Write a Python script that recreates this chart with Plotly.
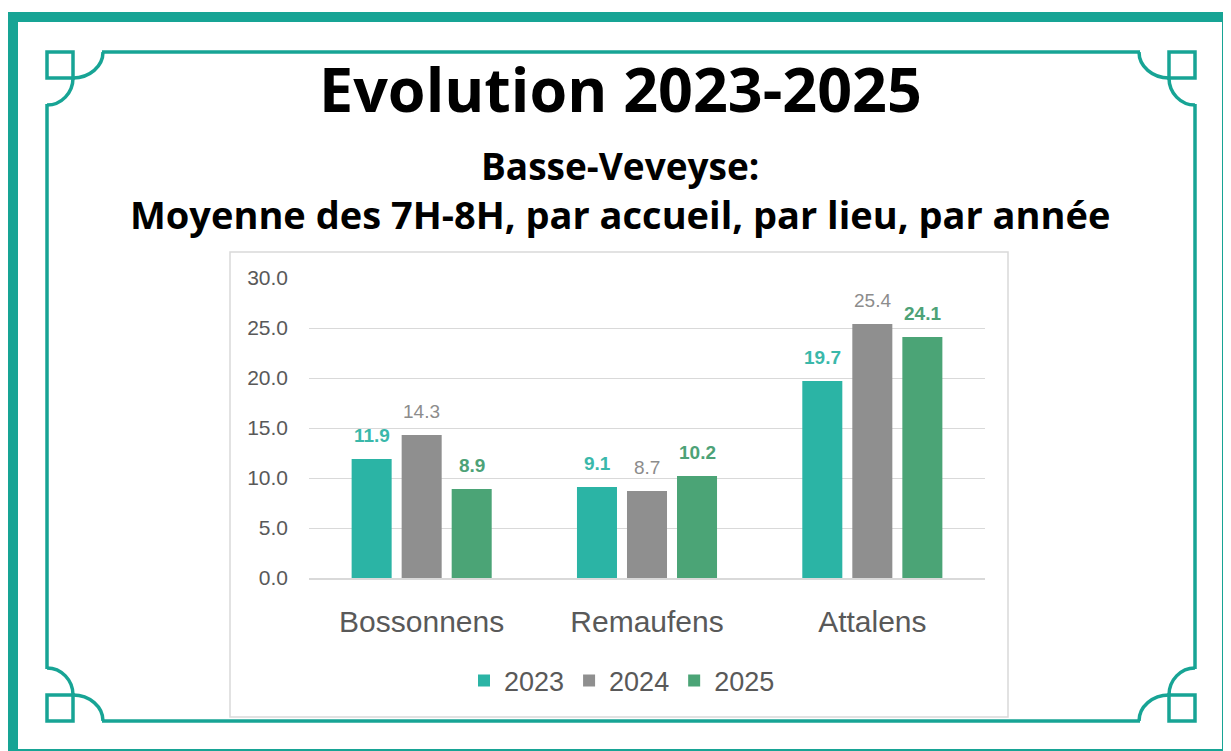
import plotly.graph_objects as go

# ---- data ----
categories = ["Bossonnens", "Remaufens", "Attalens"]
years = ["2023", "2024", "2025"]
values_2023 = [11.9, 9.1, 19.7]
values_2024 = [14.3, 8.7, 25.4]
values_2025 = [8.9, 10.2, 24.1]
y_ticks = [0, 5, 10, 15, 20, 25, 30]
y_tick_labels = ["0.0", "5.0", "10.0", "15.0", "20.0", "25.0", "30.0"]

title_text = "Evolution 2023-2025"
subtitle_1 = "Basse-Veveyse:"
subtitle_2 = "Moyenne des 7H-8H, par accueil, par lieu, par année"

# ---- style ----
OFF = 8  # page body margin
W, H = 1231 - OFF, 751 - OFF
FRAME = "#17A495"
BAR_COLORS = ["#2BB4A5", "#8F8F8F", "#4BA476"]
LABEL_COLORS = ["#3AB8AA", "#8C8C8C", "#4DA277"]
LABEL_BOLD = [True, False, True]
AXIS_FONT = "Liberation Sans, Arial, sans-serif"
TITLE_FONT = "Open Sans, Noto Sans, sans-serif"


def px(x):
    return (x - OFF) / W


def py(y):
    return 1 - (y - OFF) / H


fig = go.Figure()
series = [values_2023, values_2024, values_2025]
for i, (yr, vals) in enumerate(zip(years, series)):
    fig.add_trace(go.Bar(
        name=yr, x=categories, y=vals,
        marker=dict(color=BAR_COLORS[i], line=dict(width=0)),
        showlegend=True,
    ))

# data labels (placed via axes, shifted per bar slot)
slot_px = 50
annotations = []
for i, vals in enumerate(series):
    for c, v in zip(categories, vals):
        txt = f"{v:.1f}"
        if LABEL_BOLD[i]:
            txt = f"<b>{txt}</b>"
        annotations.append(dict(
            x=c, y=v, xref="x", yref="y", text=txt, showarrow=False,
            xanchor="center", yanchor="bottom", xshift=(i - 1) * slot_px, yshift=11,
            font=dict(family=AXIS_FONT, size=19, color=LABEL_COLORS[i]),
        ))

# titles
annotations += [
    dict(x=px(620), y=py(88), xref="paper", yref="paper", text=f"<b>{title_text}</b>",
         showarrow=False, xanchor="center", yanchor="middle",
         font=dict(family=TITLE_FONT, size=61, color="#000000")),
    dict(x=px(620), y=py(165), xref="paper", yref="paper", text=f"<b>{subtitle_1}</b>",
         showarrow=False, xanchor="center", yanchor="middle",
         font=dict(family=TITLE_FONT, size=37, color="#000000")),
    dict(x=px(620), y=py(214), xref="paper", yref="paper", text=f"<b>{subtitle_2}</b>",
         showarrow=False, xanchor="center", yanchor="middle",
         font=dict(family=TITLE_FONT, size=38, color="#000000")),
]

# ---- frame shapes ----
shapes = []
# chart box
shapes.append(dict(type="rect", xref="paper", yref="paper", layer="below",
                   x0=px(230), x1=px(1008), y0=py(717), y1=py(252),
                   line=dict(color="#D9D9D9", width=1.5), fillcolor="white"))
# outer thick border
for (x0, y0, x1, y1) in [(13, 12, 13, 760), (1227, 12, 1227, 760), (7, 17, 1231, 17), (7, 754, 1231, 754)]:
    shapes.append(dict(type="line", xref="paper", yref="paper",
                       x0=px(x0), y0=py(y0), x1=px(x1), y1=py(y1),
                       line=dict(color=FRAME, width=10)))

LW = 3.5
SX, SY = 1242, 773  # mirror sums
K = 0.5523


def arc_path(p0, p3, c):
    p1 = (p0[0] + K * (p3[0] - c[0]), p0[1] + K * (p3[1] - c[1]))
    p2 = (p3[0] + K * (p0[0] - c[0]), p3[1] + K * (p0[1] - c[1]))
    pts = [p0, p1, p2, p3]
    s = [f"{px(x):.5f},{py(y):.5f}" for x, y in pts]
    return f"M {s[0]} C {s[1]} {s[2]} {s[3]}"


def tr(p, mx, my):
    x, y = p
    return (SX - x if mx else x, SY - y if my else y)


for mx in (False, True):
    for my in (False, True):
        a = [tr(p, mx, my) for p in [(47, 52), (73, 78)]]
        shapes.append(dict(type="rect", xref="paper", yref="paper",
                           x0=px(a[0][0]), x1=px(a[1][0]), y0=py(a[0][1]), y1=py(a[1][1]),
                           line=dict(color=FRAME, width=LW)))
        shapes.append(dict(type="path", xref="paper", yref="paper",
                           path=arc_path(tr((103, 52), mx, my), tr((73, 78), mx, my), tr((73, 52), mx, my)),
                           line=dict(color=FRAME, width=LW)))
        shapes.append(dict(type="path", xref="paper", yref="paper",
                           path=arc_path(tr((73, 78), mx, my), tr((47, 105), mx, my), tr((47, 78), mx, my)),
                           line=dict(color=FRAME, width=LW)))

for (x0, y0, x1, y1) in [(102, 52, 1140, 52), (102, 721, 1140, 721), (47, 104, 47, 669), (1195, 104, 1195, 669)]:
    shapes.append(dict(type="line", xref="paper", yref="paper",
                       x0=px(x0), y0=py(y0), x1=px(x1), y1=py(y1),
                       line=dict(color=FRAME, width=LW)))

fig.update_layout(
    width=W, height=H, autosize=False,
    margin=dict(l=0, r=0, t=0, b=0, pad=0, autoexpand=False),
    paper_bgcolor="white", plot_bgcolor="rgba(0,0,0,0)",
    barmode="group", bargap=0.334, bargroupgap=0.2,
    shapes=shapes, annotations=annotations,
    legend=dict(orientation="h", x=px(622), xanchor="center", y=py(681), yanchor="middle",
                font=dict(family=AXIS_FONT, size=27, color="#595959"),
                bgcolor="rgba(0,0,0,0)", itemwidth=30, traceorder="normal"),
    xaxis=dict(domain=[px(309), px(985)], showgrid=False, showline=True, automargin=False,
               linecolor="#D9D9D9", linewidth=1.5, ticks="",
               tickfont=dict(family=AXIS_FONT, size=30, color="#595959"),
               ticklabelstandoff=16),
    yaxis=dict(domain=[py(578), py(278)], range=[0, 30], tickvals=y_ticks, automargin=False,
               ticktext=y_tick_labels, showgrid=True, gridcolor="#D9D9D9", gridwidth=1.2,
               zeroline=False, showline=False, ticks="",
               tickfont=dict(family=AXIS_FONT, size=21, color="#595959"),
               ticklabelstandoff=20),
)

fig.write_html("out.html")
